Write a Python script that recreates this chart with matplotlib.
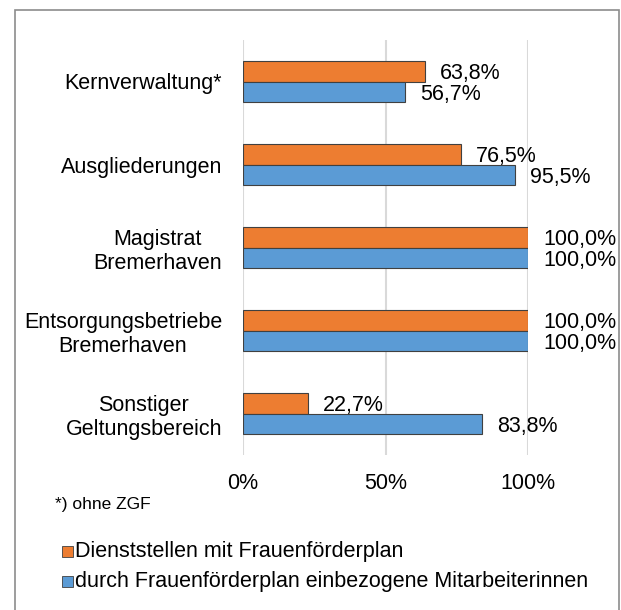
import matplotlib.pyplot as plt
from matplotlib.patches import Rectangle
import numpy as np

plt.rcParams['font.family'] = ['Liberation Sans', 'DejaVu Sans']

categories = ['Kernverwaltung*', 'Ausgliederungen', 'Magistrat\nBremerhaven',
              'Entsorgungsbetriebe\nBremerhaven', 'Sonstiger\nGeltungsbereich']
dienststellen = [63.8, 76.5, 100.0, 100.0, 22.7]
mitarbeiterinnen = [56.7, 95.5, 100.0, 100.0, 83.8]
series_names = ['Dienststellen mit Frauenförderplan',
                'durch Frauenförderplan einbezogene Mitarbeiterinnen']
xticks = [0, 50, 100]

orange = '#ED7D31'
blue = '#5B9BD5'
W, H = 621, 610
fs = 15.5

fig = plt.figure(figsize=(W / 100, H / 100), dpi=100)
ax = fig.add_axes([243 / W, 1 - 455 / H, (528 - 243) / W, (455 - 40) / H])

y = np.arange(len(categories))
h = 0.25
ax.barh(y - h / 2, dienststellen, height=h, color=orange, edgecolor='#404040', linewidth=0.8, zorder=3)
ax.barh(y + h / 2, mitarbeiterinnen, height=h, color=blue, edgecolor='#404040', linewidth=0.8, zorder=3)

for yi, v in zip(y, dienststellen):
    ax.annotate(f'{v:.1f}%'.replace('.', ','), (v, yi - h / 2), xytext=(11, -2),
                textcoords='offset points', ha='left', va='center', fontsize=fs)
for yi, v in zip(y, mitarbeiterinnen):
    ax.annotate(f'{v:.1f}%'.replace('.', ','), (v, yi + h / 2), xytext=(11, -2),
                textcoords='offset points', ha='left', va='center', fontsize=fs)

ax.set_ylim(len(categories) - 0.5, -0.5)
ax.set_xlim(0, 100)
ax.set_xticks(xticks)
ax.set_xticklabels([f'{t}%' for t in xticks], fontsize=fs)
ax.set_yticks(y)
ax.set_yticklabels(categories, fontsize=fs, multialignment='center')
ax.tick_params(axis='both', length=0)
ax.tick_params(axis='x', pad=13)
ax.tick_params(axis='y', pad=15)
for s in ax.spines.values():
    s.set_visible(False)
ax.grid(axis='x', color='#d9d9d9', linewidth=1.5, zorder=0)
ax.set_axisbelow(True)

fig.text(55 / W, 1 - 504 / H, '*) ohne ZGF', fontsize=12.5, va='center')

for i, (name, c) in enumerate(zip(series_names, [orange, blue])):
    yy = 551 + i * 30
    fig.patches.append(Rectangle((62 / W, 1 - (yy + 6) / H), 11 / W, 11 / H,
                                 facecolor=c, edgecolor='#404040', linewidth=0.6,
                                 transform=fig.transFigure))
    fig.text(75 / W, 1 - yy / H, name, fontsize=fs, va='center')

fig.patches.append(Rectangle((15 / W, -0.01), (619 - 15) / W, 1 - 10 / H + 0.01,
                             fill=False, edgecolor='#8c8c8c', linewidth=1.2,
                             transform=fig.transFigure))

fig.savefig('out.png', dpi=100)
